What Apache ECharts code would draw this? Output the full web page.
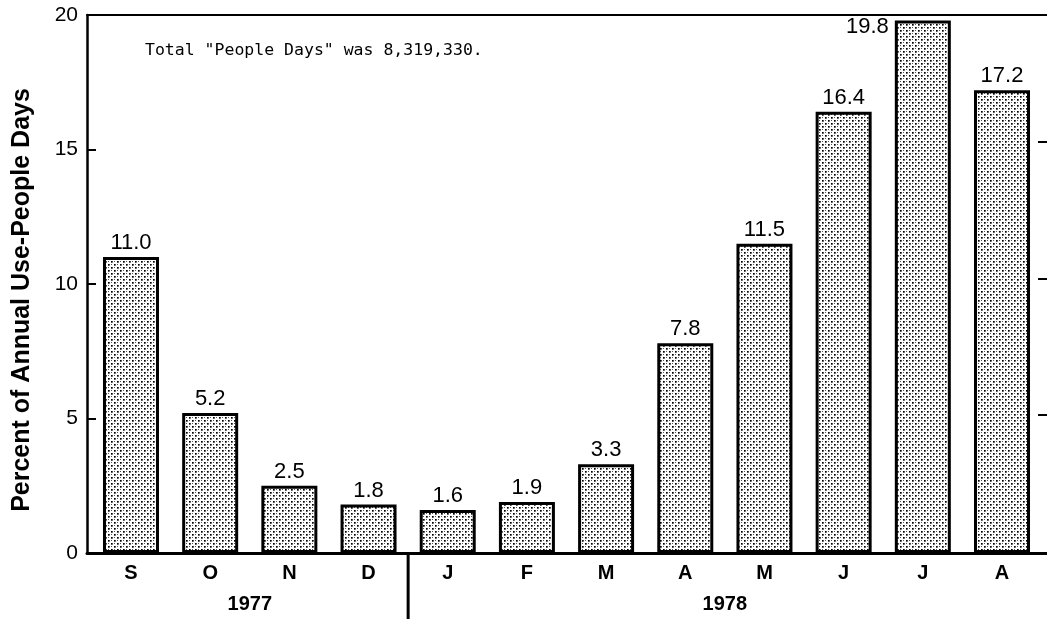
<!DOCTYPE html>
<html>
<head>
<meta charset="utf-8">
<script src="https://cdn.jsdelivr.net/npm/echarts@6/dist/echarts.min.js"></script>
<style>
  html, body { margin: 0; padding: 0; background: #fff; }
  #main { width: 1047px; height: 619px; }
</style>
</head>
<body>
<div id="main"></div>
<script>
// months Sep 1977 .. Aug 1978
const months = ['S', 'O', 'N', 'D', 'J', 'F', 'M', 'A', 'M', 'J', 'J', 'A'];
const percentUse = [11.0, 5.2, 2.5, 1.8, 1.6, 1.9, 3.3, 7.8, 11.5, 16.4, 19.8, 17.2];
const years = ['1977', '1978'];
const monthsPerYear = [4, 8];
const note = 'Total "People Days" was 8,319,330.';
const yTicks = [0, 5, 10, 15, 20];

// stipple fill like the printed screen tone
function stipple() {
  const c = document.createElement('canvas');
  c.width = 6; c.height = 6;
  const ctx = c.getContext('2d');
  ctx.fillStyle = '#fff';
  ctx.fillRect(0, 0, 6, 6);
  ctx.fillStyle = '#000';
  ctx.fillRect(0, 0, 1.7, 1.7);
  ctx.fillRect(3, 3, 1.7, 1.7);
  ctx.fillStyle = '#555';
  ctx.fillRect(3, 0, 1, 1);
  ctx.fillRect(0, 3, 1, 1);
  return c;
}

const chart = echarts.init(document.getElementById('main'));
const txt = '#000';
const sans = '"Liberation Sans", Arial, sans-serif';
const noZero = { onZero: false };

chart.setOption({
  backgroundColor: '#fff',
  animation: false,
  title: {
    text: note,
    left: 140,
    top: 37,
    textStyle: { fontFamily: '"DejaVu Sans Mono", "Liberation Mono", monospace', fontSize: 16.5, fontWeight: 'normal', color: txt }
  },
  grid: [
    { left: 87, right: 0, top: 15, bottom: 66 },       // frame
    { left: 91.4, right: 5.4, top: 15, bottom: 66 },   // bars
    { left: 87, right: 0, top: 142, bottom: 204 }      // stray right ticks
  ],
  xAxis: [
    { gridIndex: 0, type: 'value', min: 0, max: 1,
      axisLine: { show: true, onZero: false, lineStyle: { color: txt, width: 3 } },
      axisTick: { show: false }, axisLabel: { show: false }, splitLine: { show: false } },
    { gridIndex: 1, type: 'category', data: months,
      axisLine: { show: false }, axisTick: { show: false },
      axisLabel: { color: txt, fontFamily: sans, fontWeight: 'bold', fontSize: 20, margin: 10 } },
    { gridIndex: 0, type: 'value', position: 'top', min: 0, max: 1,
      axisLine: { show: true, onZero: false, lineStyle: { color: txt, width: 2 } },
      axisTick: { show: false }, axisLabel: { show: false }, splitLine: { show: false } },
    { gridIndex: 2, type: 'value', min: 0, max: 1, show: false, axisLine: noZero }
  ],
  yAxis: [
    { gridIndex: 0, type: 'value', min: yTicks[0], max: yTicks[yTicks.length - 1], interval: 5,
      name: 'Percent of Annual Use-People Days', nameLocation: 'middle', nameGap: 52,
      nameTextStyle: { color: txt, fontFamily: sans, fontWeight: 'bold', fontSize: 25, padding: [0, 32, 0, 0] },
      axisLine: { show: true, onZero: false, lineStyle: { color: txt, width: 2.5 } },
      axisTick: { show: true, inside: true, length: 9, lineStyle: { color: txt, width: 2 } },
      axisLabel: { color: txt, fontFamily: sans, fontSize: 21, margin: 9 },
      splitLine: { show: false } },
    { gridIndex: 1, type: 'value', min: 0, max: 20, show: false, axisLine: noZero },
    { gridIndex: 2, type: 'value', position: 'right', min: 5, max: 15, interval: 5,
      axisLine: { show: false, onZero: false },
      axisTick: { show: true, inside: true, length: 9, lineStyle: { color: txt, width: 2 } },
      axisLabel: { show: false }, splitLine: { show: false } }
  ],
  series: [{
    type: 'bar',
    xAxisIndex: 1,
    yAxisIndex: 1,
    // tallest bar has its value set beside it, as printed
    data: percentUse.map(v => v === Math.max(...percentUse)
      ? { value: v, label: { position: [-6, -4], align: 'right', verticalAlign: 'top' } }
      : v),
    barWidth: 56,
    itemStyle: {
      color: { image: stipple(), repeat: 'repeat' },
      borderColor: '#000',
      borderWidth: 3
    },
    label: {
      show: true,
      position: 'top',
      distance: 3,
      color: txt,
      fontFamily: sans,
      fontSize: 22,
      formatter: p => p.value.toFixed(1)
    }
  }]
});

// year captions and the divider below the axis, placed from the category scale
const px = m => chart.convertToPixel({ xAxisIndex: 1 }, m);
let start = 0;
const graphics = [];
const baseY = chart.convertToPixel({ yAxisIndex: 1 }, 0);
years.forEach((y, i) => {
  const a = px(start), b = px(start + monthsPerYear[i] - 1);
  graphics.push({
    type: 'text', x: (a + b) / 2, y: baseY + 51,
    style: { text: y, fill: txt, font: 'bold 20px ' + sans, textAlign: 'center', textVerticalAlign: 'middle' }
  });
  if (i > 0) {
    const d = (px(start - 1) + a) / 2;
    graphics.push({ type: 'line', shape: { x1: d, y1: baseY, x2: d, y2: 619 }, style: { stroke: txt, lineWidth: 3 } });
  }
  start += monthsPerYear[i];
});
chart.setOption({ graphic: graphics });
</script>
</body>
</html>
